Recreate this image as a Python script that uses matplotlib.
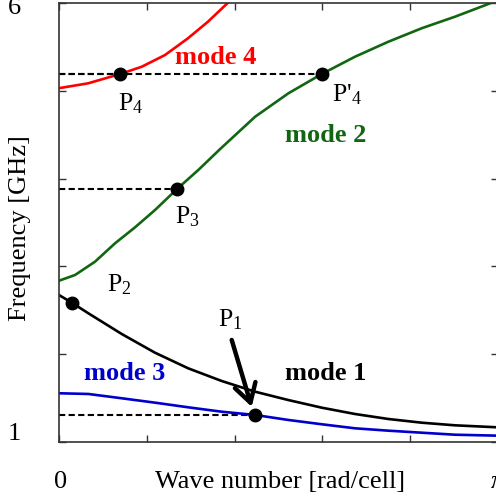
import numpy as np
import matplotlib
matplotlib.use("Agg")
import matplotlib.pyplot as plt

plt.rcParams['font.family'] = ['Liberation Serif', 'DejaVu Serif']
plt.rcParams['mathtext.fontset'] = 'custom'
plt.rcParams['mathtext.rm'] = 'Liberation Serif'
plt.rcParams['mathtext.it'] = 'Liberation Serif:italic'

# dispersion curves (k in rad/cell, f in GHz)
mode1_k = [0.0, 0.091, 0.210, 0.449, 0.687, 0.925, 1.164, 1.403, 1.641, 1.880, 2.118, 2.357, 2.595, 2.834, 3.1416]
mode1_f = [2.674, 2.587, 2.466, 2.230, 2.017, 1.839, 1.695, 1.573, 1.478, 1.391, 1.319, 1.262, 1.220, 1.190, 1.167]

mode2_k = [0.0, 0.115, 0.258, 0.401, 0.544, 0.687, 0.842, 0.997, 1.152, 1.403, 1.641, 1.880, 2.118,
           2.357, 2.595, 2.834, 3.096, 3.1416]
mode2_f = [2.837, 2.902, 3.054, 3.263, 3.445, 3.642, 3.878, 4.098, 4.335, 4.704, 4.971, 5.191, 5.388,
           5.559, 5.712, 5.844, 6.003, 6.02]

mode3_k = [0.0, 0.210, 0.449, 0.687, 0.925, 1.164, 1.403, 1.641, 1.880, 2.118, 2.357, 2.595, 2.834, 3.1416]
mode3_f = [1.555, 1.547, 1.498, 1.448, 1.395, 1.345, 1.308, 1.251, 1.202, 1.156, 1.129, 1.106, 1.083, 1.072]

mode4_k = [0.0, 0.208, 0.437, 0.592, 0.759, 0.923, 1.066, 1.209, 1.26]
mode4_f = [5.03, 5.085, 5.191, 5.274, 5.408, 5.598, 5.787, 6.003, 6.08]

# marked points
pt_names = ['P$_1$', 'P$_2$', 'P$_3$', 'P$_4$', "P$'_4$"]
pt_k = [1.403, 0.091, 0.842, 0.437, 1.880]
pt_f = [1.308, 2.587, 3.878, 5.191, 5.191]
pt_dashed = [True, False, True, True, True]
pt_label_k = [1.140, 0.341, 0.830, 0.424, 1.951]
pt_label_f = [2.313, 2.712, 3.491, 4.781, 4.876]

mode_names = ['mode 1', 'mode 2', 'mode 3', 'mode 4']
mode_label_k = [1.906, 1.909, 0.470, 1.122]
mode_label_f = [1.706, 4.420, 1.706, 5.305]

red = '#ff0000'
green = '#116611'
blue = '#0000cc'
mode_colors = ['black', green, blue, red]

fig = plt.figure(figsize=(4.96, 5.03), dpi=100)
ax = fig.add_axes([59 / 496, 1 - 442 / 503, 439 / 496, 439 / 503])

lw = 1.9
ax.plot(mode4_k, mode4_f, color=red, lw=lw)
ax.plot(mode2_k, mode2_f, color=green, lw=lw)
ax.plot(mode1_k, mode1_f, color='black', lw=lw)
ax.plot(mode3_k, mode3_f, color=blue, lw=lw)

for k, f, d in zip(pt_k, pt_f, pt_dashed):
    if d:
        ax.plot([0, k], [f, f], color='black', lw=1.5, ls=(0, (3, 1.6)), zorder=1)
ax.plot(pt_k, pt_f, 'o', color='black', ms=9, zorder=5)

for name, x, y in zip(pt_names, pt_label_k, pt_label_f):
    ax.text(x, y, name, fontsize=18.5, ha='left', va='baseline')

for name, x, y, c in zip(mode_names, mode_label_k, mode_label_f, mode_colors):
    ax.text(x, y, name, color=c, fontsize=19, fontweight='bold', ha='center', va='baseline')

ax.annotate('', xy=(1.379, 1.40), xytext=(1.236, 2.162),
            arrowprops=dict(arrowstyle='->,head_length=0.6,head_width=0.35', lw=3.2,
                            color='black', mutation_scale=22, shrinkA=0, shrinkB=0))

ax.set_xlim(0, np.pi)
ax.set_ylim(1, 6)
ax.set_xticks(np.linspace(0, np.pi, 6))
ax.set_yticks([1, 2, 3, 4, 5, 6])
ax.tick_params(direction='in', length=5, width=1, top=True, right=True,
               labelbottom=False, labelleft=False, color='#333333')
for s in ax.spines.values():
    s.set_color('#333333')
    s.set_linewidth(1.2)

fs = 19
fig.text(61 / 496, 1 - 482 / 503, '0', fontsize=fs, ha='center', va='center')
fig.text(498 / 496, 1 - 482 / 503, r'$\pi$', fontsize=fs, ha='center', va='center')
fig.text(280 / 496, 1 - 482 / 503, 'Wave number [rad/cell]', fontsize=fs, ha='center', va='center')
fig.text(14 / 496, 1 - 8 / 503, '6', fontsize=fs, ha='center', va='center')
fig.text(14 / 496, 1 - 434 / 503, '1', fontsize=fs, ha='center', va='center')
fig.text(20 / 496, 1 - 228 / 503, 'Frequency [GHz]', fontsize=fs, ha='center', va='center', rotation=90)

fig.savefig('out.png', dpi=100)
